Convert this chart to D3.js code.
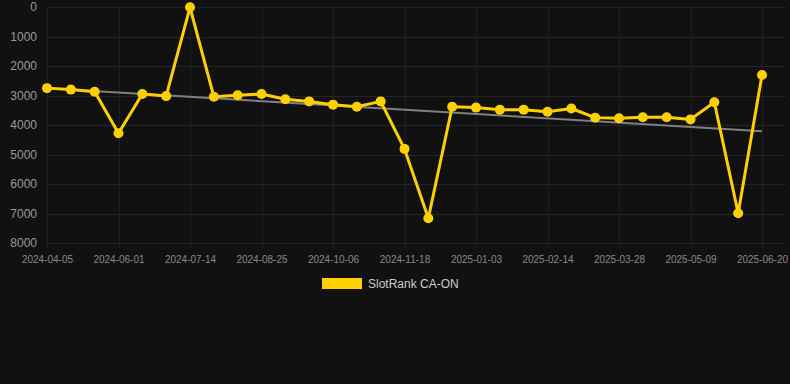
<!DOCTYPE html>
<html lang="en">
<head>
    <meta charset="UTF-8">
    <title>SlotRank CA-ON</title>
    <script src="https://cdn.jsdelivr.net/npm/d3@7/dist/d3.min.js" charset="utf-8"></script>
    <style>
        html, body { margin: 0; padding: 0; background: #111111; }
        svg { display: block; font-family: "Liberation Sans", Arial, sans-serif; }
    </style>
</head>
<body>

    <script>

        // 数据
        var dates = ["2024-04-05", "2024-04-24", "2024-05-13", "2024-06-01", "2024-06-15", "2024-06-29",
            "2024-07-14", "2024-07-28", "2024-08-11", "2024-08-25", "2024-09-08", "2024-09-22",
            "2024-10-06", "2024-10-20", "2024-11-04", "2024-11-18", "2024-12-04", "2024-12-19",
            "2025-01-03", "2025-01-17", "2025-01-31", "2025-02-14", "2025-02-28", "2025-03-14",
            "2025-03-28", "2025-04-11", "2025-04-25", "2025-05-09", "2025-05-23", "2025-06-06",
            "2025-06-20"];
        var ranks = [2750, 2800, 2870, 4280, 2950, 3020, 10, 3040, 2990, 2950, 3130, 3200,
            3310, 3380, 3200, 4810, 7160, 3380, 3410, 3480, 3480, 3550, 3440, 3750,
            3770, 3740, 3740, 3810, 3230, 6990, 2305];
        var yTicks = [0, 1000, 2000, 3000, 4000, 5000, 6000, 7000, 8000];
        var seriesName = "SlotRank CA-ON";

        // 画布
        var width = 790;
        var height = 384;
        var plotLeft = 47, plotRight = 785, plotTop = 7, plotBottom = 243;

        var svg = d3.select("body")
            .append("svg")
            .attr("width", width)
            .attr("height", height);

        var x = d3.scalePoint()
            .domain(dates)
            .range([plotLeft, 762]);

        var y = d3.scaleLinear()
            .domain([0, 8000])
            .range([plotTop, plotBottom]);

        // 网格
        svg.append("g")
            .selectAll("line")
            .data(yTicks)
            .enter()
            .append("line")
            .attr("x1", plotLeft)
            .attr("x2", plotRight)
            .attr("y1", function (d) { return Math.round(y(d)) + 0.5; })
            .attr("y2", function (d) { return Math.round(y(d)) + 0.5; })
            .attr("stroke", "#252525")
            .attr("stroke-width", 1);

        var shown = dates.filter(function (d, i) { return i % 3 === 0; });

        svg.append("g")
            .selectAll("line")
            .data(shown)
            .enter()
            .append("line")
            .attr("x1", function (d) { return Math.round(x(d)) + 0.5; })
            .attr("x2", function (d) { return Math.round(x(d)) + 0.5; })
            .attr("y1", plotTop)
            .attr("y2", plotBottom + 5)
            .attr("stroke", "#1f1f1f")
            .attr("stroke-width", 1);

        // 坐标轴
        var yAxis = svg.append("g")
            .attr("transform", "translate(37,0)")
            .call(d3.axisLeft(y).tickValues(yTicks).tickFormat(d3.format("d")).tickSize(0).tickPadding(0));
        yAxis.select(".domain").remove();
        yAxis.selectAll("text")
            .attr("fill", "#999")
            .style("font-size", "12px")
            .style("font-family", "Liberation Sans, Arial, sans-serif");

        var xAxis = svg.append("g")
            .attr("transform", "translate(0," + (plotBottom + 13) + ")")
            .call(d3.axisBottom(x).tickValues(shown).tickSize(0).tickPadding(0));
        xAxis.select(".domain").remove();
        xAxis.selectAll("text")
            .attr("fill", "#888")
            .style("font-size", "10px")
            .style("font-family", "Liberation Sans, Arial, sans-serif");

        // 趋势线 (最小二乘)
        var n = ranks.length;
        var mx = d3.mean(ranks, function (d, i) { return i; });
        var my = d3.mean(ranks);
        var sxy = d3.sum(ranks, function (d, i) { return (i - mx) * (d - my); });
        var sxx = d3.sum(ranks, function (d, i) { return (i - mx) * (i - mx); });
        var slope = sxy / sxx;
        var icpt = my - slope * mx;

        svg.append("line")
            .attr("x1", x(dates[0]))
            .attr("y1", y(icpt))
            .attr("x2", x(dates[n - 1]))
            .attr("y2", y(icpt + slope * (n - 1)))
            .attr("stroke", "#808080")
            .attr("stroke-width", 2);

        // 折线
        var line = d3.line()
            .x(function (d, i) { return x(dates[i]); })
            .y(function (d) { return y(d); });

        svg.append("path")
            .datum(ranks)
            .attr("d", line)
            .attr("fill", "none")
            .attr("stroke", "#FFD000")
            .attr("stroke-width", 3)
            .attr("stroke-linejoin", "round");

        svg.append("g")
            .selectAll("circle")
            .data(ranks)
            .enter()
            .append("circle")
            .attr("cx", function (d, i) { return x(dates[i]); })
            .attr("cy", function (d) { return y(d); })
            .attr("r", 5)
            .style("fill", "#FFD000");

        // 图例
        var legend = svg.append("g");
        legend.append("rect")
            .attr("x", 322)
            .attr("y", 278)
            .attr("width", 40)
            .attr("height", 11)
            .style("fill", "#FFD000");
        legend.append("text")
            .attr("x", 368)
            .attr("y", 288)
            .attr("fill", "#cccccc")
            .style("font-size", "12px")
            .text(seriesName);

    </script>
</body>
</html>
